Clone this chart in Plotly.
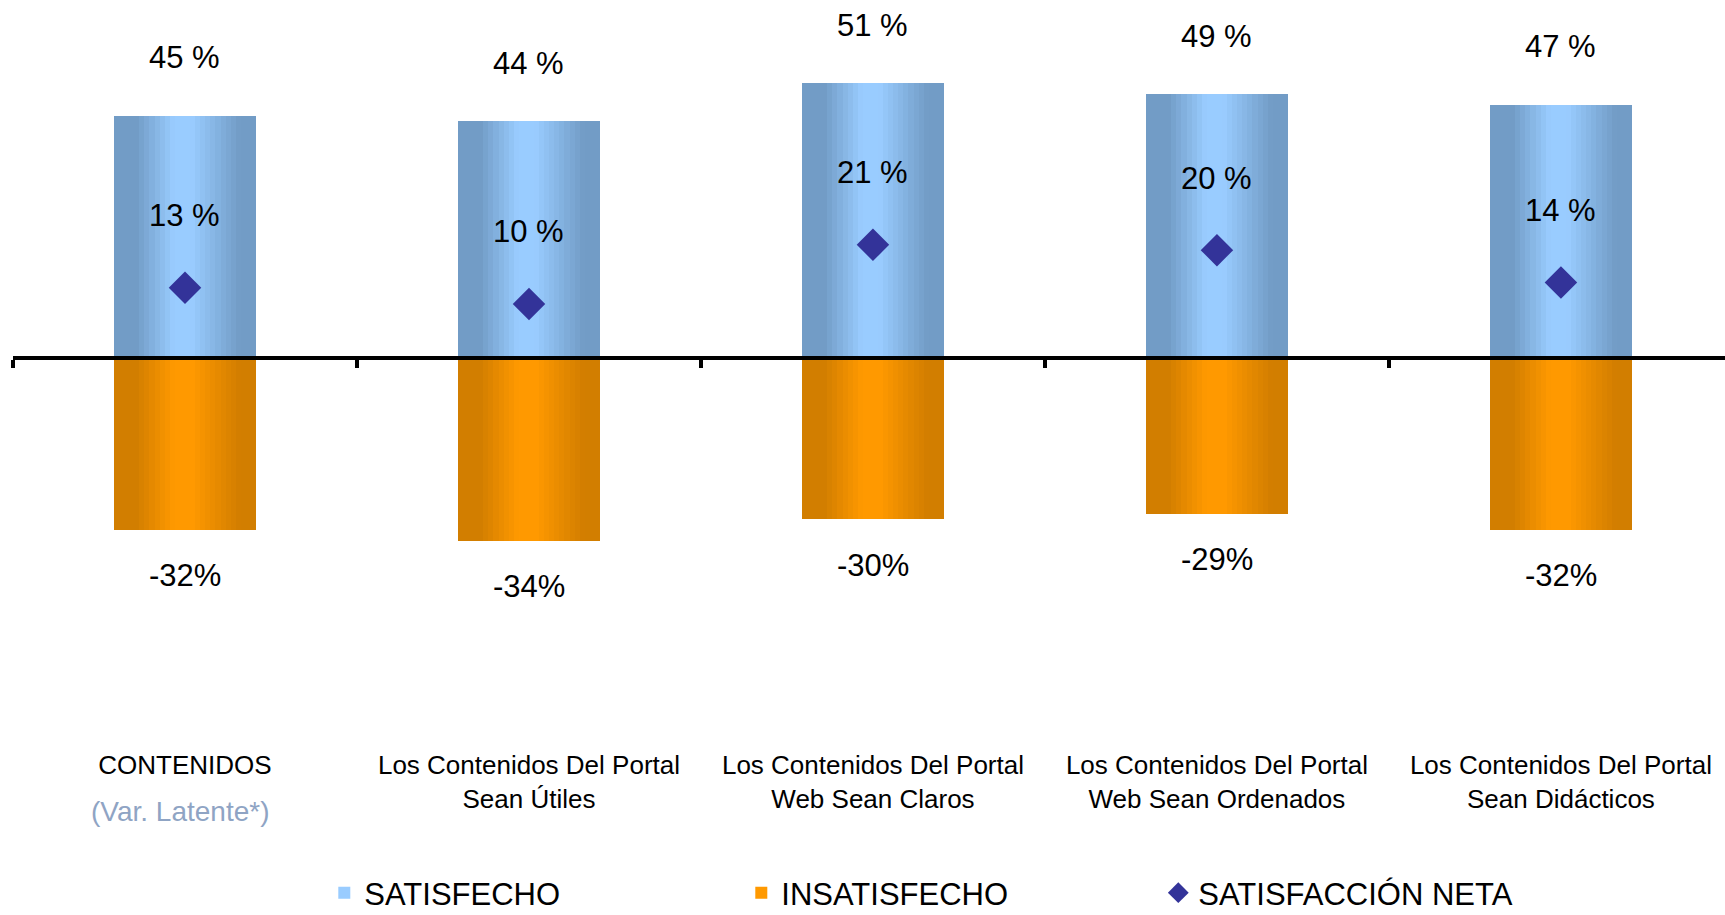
import plotly.graph_objects as go

# ---------------- data ----------------
categories = ["CONTENIDOS", "Útiles", "Claros", "Ordenados", "Didácticos"]
tick_labels = [
    "CONTENIDOS<br> ",
    "Los Contenidos Del Portal<br>Sean Útiles",
    "Los Contenidos Del Portal<br>Web Sean Claros",
    "Los Contenidos Del Portal<br>Web Sean Ordenados",
    "Los Contenidos Del Portal<br>Sean Didácticos",
]
latent_note = "(Var. Latente*)"
satisfecho = [45, 44, 51, 49, 47]
insatisfecho = [-32, -34, -30, -29, -32]
neta = [13, 10, 21, 20, 14]

# ---------------- style ----------------
FONT = "Liberation Sans, Arial, sans-serif"
BAR_W = 0.413
N_STRIPS = 28
BLUE_DARK, BLUE_LIGHT = (114, 156, 198), (153, 204, 255)
ORANGE_DARK, ORANGE_LIGHT = (210, 126, 0), (255, 153, 0)
Y_RANGE = [-71.8, 66.5]
W, H = 1725, 915
M_L, M_R, M_T, M_B = 13, 0, 0, 171


def light_factor(t):
    if t < 0.16:
        return 0.0
    if t < 0.42:
        return (t - 0.16) / 0.26
    if t < 0.55:
        return 1.0
    if t < 0.88:
        return 1.0 - (t - 0.55) / 0.33
    return 0.0


def mix(c0, c1, f):
    return "rgb({},{},{})".format(*[round(a + (b - a) * f) for a, b in zip(c0, c1)])


fig = go.Figure()
step = BAR_W / N_STRIPS
mid = N_STRIPS // 2
for values, dark, light, name in [
    (satisfecho, BLUE_DARK, BLUE_LIGHT, "SATISFECHO"),
    (insatisfecho, ORANGE_DARK, ORANGE_LIGHT, "INSATISFECHO"),
]:
    for i in range(N_STRIPS):
        off = -BAR_W / 2 + i * step
        w = min(step * 1.6, BAR_W / 2 - off)
        t = (i + 0.5) / N_STRIPS
        fig.add_trace(go.Bar(
            x=categories, y=values, width=w, offset=off,
            marker=dict(color=mix(dark, light, light_factor(t)), line=dict(width=0)),
            name=name, legendgroup=name, showlegend=(i == mid),
            hoverinfo="skip",
        ))

fig.add_trace(go.Scatter(
    x=categories, y=neta, mode="markers", name="SATISFACCIÓN NETA",
    marker=dict(symbol="diamond", size=25, color="#333399"),
    xaxis="x2", yaxis="y",
))

LABEL_FONT = dict(size=31, family=FONT, color="black")
annotations = []
for c, s, n, d in zip(categories, satisfecho, insatisfecho, neta):
    annotations.append(dict(x=c, y=s, text=f"{s} %", showarrow=False,
                            yshift=58, yanchor="middle", font=LABEL_FONT))
    annotations.append(dict(x=c, y=d, text=f"{d} %", showarrow=False,
                            yshift=72, yanchor="middle", font=LABEL_FONT))
    annotations.append(dict(x=c, y=n, text=f"{n}%", showarrow=False,
                            yshift=-46, yanchor="middle", font=LABEL_FONT))

plot_h = H - M_T - M_B
annotations.append(dict(
    x=categories[0], xref="x", yref="paper", y=(plot_h - (812 - M_T)) / plot_h,
    text=latent_note, showarrow=False, yanchor="middle", xshift=-5,
    font=dict(size=28, family=FONT, color="#8FA4C4"),
))

zero_pos = -Y_RANGE[0] / (Y_RANGE[1] - Y_RANGE[0])

fig.update_layout(
    width=W, height=H,
    margin=dict(l=M_L, r=M_R, t=M_T, b=M_B, autoexpand=False),
    paper_bgcolor="white", plot_bgcolor="white",
    font=dict(family=FONT, color="black", size=26),
    barmode="overlay", bargap=0,
    xaxis=dict(type="category", categoryarray=categories, range=[-0.5, 4.477],
               tickvals=categories, ticktext=tick_labels, ticks="", showline=False,
               showgrid=False, automargin=False, ticklabelstandoff=3,
               tickfont=dict(size=26, family=FONT)),
    xaxis2=dict(type="category", categoryarray=categories, range=[-0.5, 4.477],
                overlaying="x", anchor="free", position=zero_pos, automargin=False,
                showline=True, linecolor="black", linewidth=4,
                ticks="outside", tickson="boundaries", ticklen=8, tickwidth=4,
                tickcolor="black", showticklabels=False, showgrid=False),
    yaxis=dict(range=Y_RANGE, visible=False, showgrid=False, zeroline=False,
               automargin=False),
    legend=dict(orientation="h", xref="container", yref="container",
                x=0.188, y=0.024, xanchor="left", yanchor="middle",
                font=dict(size=31, family=FONT), entrywidth=372,
                entrywidthmode="pixels", traceorder="normal"),
    annotations=annotations,
    showlegend=True,
)

fig.write_html("out.html", config={"displayModeBar": False},
               post_script="document.body.style.margin='0px';")
